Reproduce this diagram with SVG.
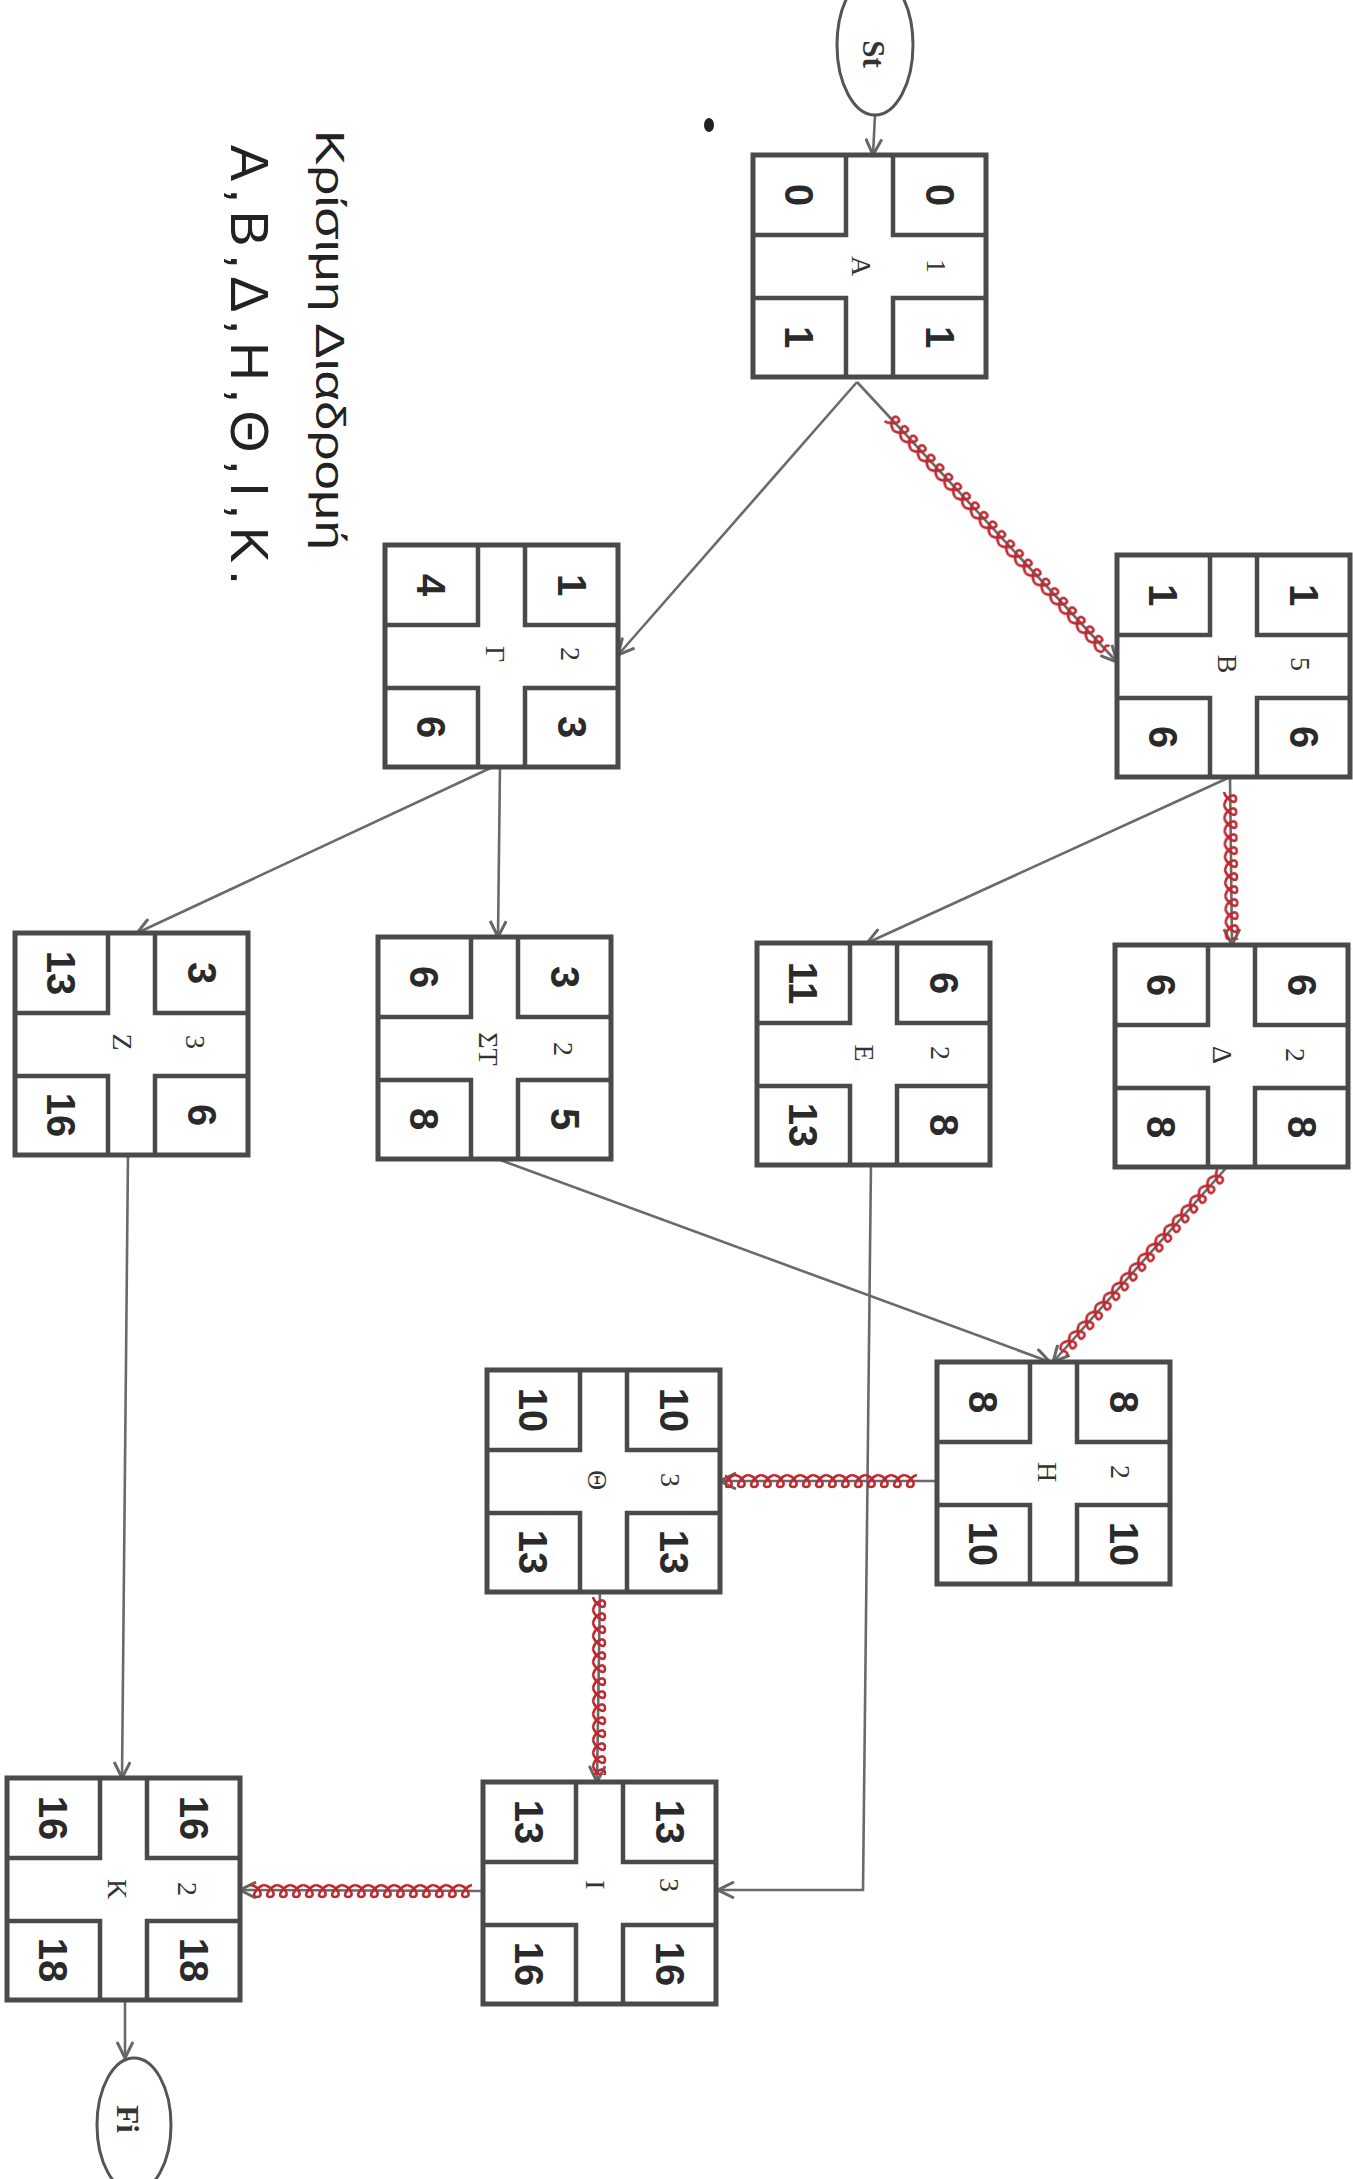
<svg xmlns="http://www.w3.org/2000/svg" xmlns:xlink="http://www.w3.org/1999/xlink" width="1353" height="2179" viewBox="0 0 1353 2179">
<style>
.frame{fill:#fff;stroke:#4a4a4a;stroke-width:5}
.inner{fill:none;stroke:#4a4a4a;stroke-width:4.5}
.lbl{font-family:"Liberation Serif",serif;font-size:28px;fill:#333;text-anchor:middle;dominant-baseline:central}
.num{font-family:"Liberation Sans",sans-serif;font-weight:bold;font-size:40px;fill:#2a2a2a;text-anchor:middle;dominant-baseline:central}
.term{font-family:"Liberation Serif",serif;font-weight:bold;font-size:31px;fill:#333;text-anchor:middle;dominant-baseline:central}
.hand{font-family:"Liberation Sans",sans-serif;fill:#222;text-anchor:middle;dominant-baseline:central}
.edge{fill:none;stroke:#6a6a6a;stroke-width:2.6;marker-end:url(#arr)}
.crit{fill:url(#coil)}
</style>
<defs>
<marker id="arr" viewBox="0 0 18 18" refX="17" refY="9" markerWidth="18" markerHeight="18" markerUnits="userSpaceOnUse" orient="auto">
<path d="M1,1 L17,9 L1,17" fill="none" stroke="#666" stroke-width="3"/>
</marker>
<pattern id="coil" patternUnits="userSpaceOnUse" x="0" y="-10" width="13" height="20">
<path d="M0,16 c7,-2 14,-12 7,-12 c-7,0 -3,10 6,12" fill="none" stroke="#c0282f" stroke-width="2.6"/>
</pattern>
<g id="box">
<rect class="frame" x="0" y="0" width="233" height="222"/>
<path class="inner" d="M93,0 V80 H0 M140,0 V80 H233 M93,222 V143 H0 M140,222 V143 H233"/>
</g>
</defs>
<rect width="1353" height="2179" fill="#fff"/>

<g id="connectors">
<path class="edge" d="M875,115 L873,155"/>
<path class="edge" d="M857,382 L1117,662"/>
<path class="edge" d="M857,382 L618,655"/>
<path class="edge" d="M1230,778 L1232,945"/>
<path class="edge" d="M1228,778 L867,943"/>
<path class="edge" d="M500,765 L498,937"/>
<path class="edge" d="M497,765 L137,933"/>
<path class="edge" d="M1227,1167 L1053,1362"/>
<path class="edge" d="M495,1158 L1050,1362"/>
<path class="edge" d="M871,1162 L863,1890 L718,1890"/>
<path class="edge" d="M937,1481 L720,1481"/>
<path class="edge" d="M600,1588 L597,1782"/>
<path class="edge" d="M483,1891 L240,1890"/>
<path class="edge" d="M128,1152 L122,1778"/>
<path class="edge" d="M125,2000 L125,2058"/>
<g id="critical-marks">
<rect class="crit" x="0" y="-10" width="318" height="20" transform="translate(889,417) rotate(47.2)"/>
<rect class="crit" x="0" y="-10" width="148" height="20" transform="translate(1230,792) rotate(89.3)"/>
<rect class="crit" x="0" y="-10" width="240" height="20" transform="translate(1222,1173) rotate(131.7)"/>
<rect class="crit" x="0" y="-10" width="192" height="20" transform="translate(917,1481) rotate(180)"/>
<rect class="crit" x="0" y="-10" width="178" height="20" transform="translate(599,1597) rotate(90)"/>
<rect class="crit" x="0" y="-10" width="222" height="20" transform="translate(472,1891) rotate(180)"/>
</g>
</g>

<g id="St">
<ellipse cx="875" cy="45" rx="38" ry="70" fill="#fff" stroke="#555" stroke-width="3"/>
<text class="term" x="873" y="54" transform="rotate(90 873 54)">St</text>
</g>
<g id="Fi">
<ellipse cx="134" cy="2125" rx="37" ry="67" fill="#fff" stroke="#555" stroke-width="3"/>
<text class="term" x="127" y="2119" transform="rotate(90 127 2119)">Fi</text>
</g>

<g id="node-A" transform="translate(753,155)">
<use xlink:href="#box"/>
<text class="lbl" x="108" y="111" transform="rotate(90 108 111)">Α</text>
<text class="lbl" x="183" y="111" transform="rotate(90 183 111)">1</text>
<text class="num" x="46" y="40" transform="rotate(90 46 40)">0</text>
<text class="num" x="187" y="40" transform="rotate(90 187 40)">0</text>
<text class="num" x="46" y="182" transform="rotate(90 46 182)">1</text>
<text class="num" x="187" y="182" transform="rotate(90 187 182)">1</text>
</g>
<g id="node-B" transform="translate(1117,555)">
<use xlink:href="#box"/>
<text class="lbl" x="110" y="109" transform="rotate(90 110 109)">Β</text>
<text class="lbl" x="183" y="109" transform="rotate(90 183 109)">5</text>
<text class="num" x="46" y="40" transform="rotate(90 46 40)">1</text>
<text class="num" x="187" y="40" transform="rotate(90 187 40)">1</text>
<text class="num" x="46" y="182" transform="rotate(90 46 182)">6</text>
<text class="num" x="187" y="182" transform="rotate(90 187 182)">6</text>
</g>
<g id="node-Gamma" transform="translate(385,545)">
<use xlink:href="#box"/>
<text class="lbl" x="110" y="109" transform="rotate(90 110 109)">Γ</text>
<text class="lbl" x="185" y="109" transform="rotate(90 185 109)">2</text>
<text class="num" x="46" y="40" transform="rotate(90 46 40)">4</text>
<text class="num" x="187" y="40" transform="rotate(90 187 40)">1</text>
<text class="num" x="46" y="182" transform="rotate(90 46 182)">6</text>
<text class="num" x="187" y="182" transform="rotate(90 187 182)">3</text>
</g>
<g id="node-Delta" transform="translate(1115,945)">
<use xlink:href="#box"/>
<text class="lbl" x="107" y="110" transform="rotate(90 107 110)">Δ</text>
<text class="lbl" x="180" y="110" transform="rotate(90 180 110)">2</text>
<text class="num" x="46" y="40" transform="rotate(90 46 40)">6</text>
<text class="num" x="187" y="40" transform="rotate(90 187 40)">6</text>
<text class="num" x="46" y="182" transform="rotate(90 46 182)">8</text>
<text class="num" x="187" y="182" transform="rotate(90 187 182)">8</text>
</g>
<g id="node-E" transform="translate(757,943)">
<use xlink:href="#box"/>
<text class="lbl" x="107" y="110" transform="rotate(90 107 110)">Ε</text>
<text class="lbl" x="183" y="110" transform="rotate(90 183 110)">2</text>
<text class="num" x="46" y="40" transform="rotate(90 46 40)">11</text>
<text class="num" x="187" y="40" transform="rotate(90 187 40)">6</text>
<text class="num" x="46" y="182" transform="rotate(90 46 182)">13</text>
<text class="num" x="187" y="182" transform="rotate(90 187 182)">8</text>
</g>
<g id="node-ST" transform="translate(378,937)">
<use xlink:href="#box"/>
<text class="lbl" x="110" y="112" transform="rotate(90 110 112)">ΣΤ</text>
<text class="lbl" x="185" y="112" transform="rotate(90 185 112)">2</text>
<text class="num" x="46" y="40" transform="rotate(90 46 40)">6</text>
<text class="num" x="187" y="40" transform="rotate(90 187 40)">3</text>
<text class="num" x="46" y="182" transform="rotate(90 46 182)">8</text>
<text class="num" x="187" y="182" transform="rotate(90 187 182)">5</text>
</g>
<g id="node-Z" transform="translate(15,933)">
<use xlink:href="#box"/>
<text class="lbl" x="107" y="109" transform="rotate(90 107 109)">Ζ</text>
<text class="lbl" x="180" y="109" transform="rotate(90 180 109)">3</text>
<text class="num" x="46" y="40" transform="rotate(90 46 40)">13</text>
<text class="num" x="187" y="40" transform="rotate(90 187 40)">3</text>
<text class="num" x="46" y="182" transform="rotate(90 46 182)">16</text>
<text class="num" x="187" y="182" transform="rotate(90 187 182)">6</text>
</g>
<g id="node-H" transform="translate(937,1362)">
<use xlink:href="#box"/>
<text class="lbl" x="110" y="110" transform="rotate(90 110 110)">Η</text>
<text class="lbl" x="183" y="110" transform="rotate(90 183 110)">2</text>
<text class="num" x="46" y="40" transform="rotate(90 46 40)">8</text>
<text class="num" x="187" y="40" transform="rotate(90 187 40)">8</text>
<text class="num" x="46" y="182" transform="rotate(90 46 182)">10</text>
<text class="num" x="187" y="182" transform="rotate(90 187 182)">10</text>
</g>
<g id="node-Theta" transform="translate(487,1370)">
<use xlink:href="#box"/>
<text class="lbl" x="110" y="110" transform="rotate(90 110 110)">Θ</text>
<text class="lbl" x="183" y="110" transform="rotate(90 183 110)">3</text>
<text class="num" x="46" y="40" transform="rotate(90 46 40)">10</text>
<text class="num" x="187" y="40" transform="rotate(90 187 40)">10</text>
<text class="num" x="46" y="182" transform="rotate(90 46 182)">13</text>
<text class="num" x="187" y="182" transform="rotate(90 187 182)">13</text>
</g>
<g id="node-I" transform="translate(483,1782)">
<use xlink:href="#box"/>
<text class="lbl" x="112" y="103" transform="rotate(90 112 103)">Ι</text>
<text class="lbl" x="186" y="103" transform="rotate(90 186 103)">3</text>
<text class="num" x="46" y="40" transform="rotate(90 46 40)">13</text>
<text class="num" x="187" y="40" transform="rotate(90 187 40)">13</text>
<text class="num" x="46" y="182" transform="rotate(90 46 182)">16</text>
<text class="num" x="187" y="182" transform="rotate(90 187 182)">16</text>
</g>
<g id="node-K" transform="translate(7,1778)">
<use xlink:href="#box"/>
<text class="lbl" x="110" y="111" transform="rotate(90 110 111)">Κ</text>
<text class="lbl" x="180" y="111" transform="rotate(90 180 111)">2</text>
<text class="num" x="46" y="40" transform="rotate(90 46 40)">16</text>
<text class="num" x="187" y="40" transform="rotate(90 187 40)">16</text>
<text class="num" x="46" y="182" transform="rotate(90 46 182)">18</text>
<text class="num" x="187" y="182" transform="rotate(90 187 182)">18</text>
</g>

<g id="note">
<text class="hand" x="330" y="340" font-size="40" textLength="420" lengthAdjust="spacingAndGlyphs" transform="rotate(90 330 340)">Κρίσιμη Διαδρομή</text>
<text class="hand" x="250" y="365" font-size="54" textLength="440" lengthAdjust="spacing" transform="rotate(90 250 365)">Α,Β,Δ,Η,Θ,Ι,Κ.</text>
</g>
<ellipse cx="709" cy="125" rx="5" ry="7" fill="#222"/>
</svg>
